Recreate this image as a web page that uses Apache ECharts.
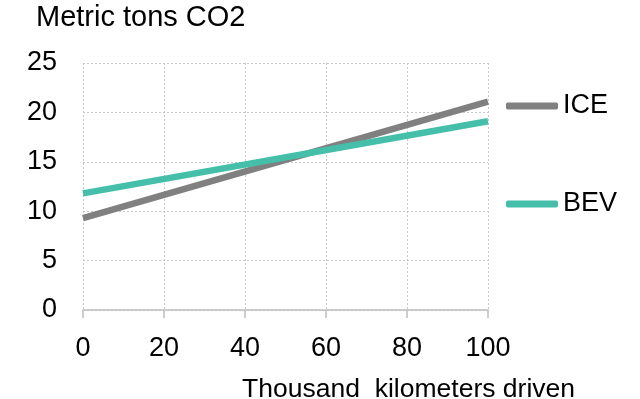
<!DOCTYPE html>
<html>
<head>
<meta charset="utf-8">
<script src="https://cdn.jsdelivr.net/npm/echarts@6/dist/echarts.min.js"></script>
<style>
  html, body { margin: 0; padding: 0; background: #fff; }
  #main { width: 640px; height: 399px; }
</style>
</head>
<body>
<div id="main"></div>
<script>
// thousand km driven
var km = [0, 100]
// metric tons CO2
var ice = [9.3, 21.1]
var bev = [11.8, 19.1]
var xTicks = [0, 20, 40, 60, 80, 100]
var yTicks = [0, 5, 10, 15, 20, 25]

var FONT = '"Liberation Sans", Arial, sans-serif'
var GREY = '#808080'
var TEAL = '#45BFAA'

var chart = echarts.init(document.getElementById('main'), null, { renderer: 'canvas' })

function pairs(xs, ys) {
  return xs.map(function (x, i) { return [x, ys[i]] })
}

chart.setOption({
  animation: false,
  backgroundColor: '#fff',
  textStyle: { fontFamily: FONT },
  grid: { left: 83, right: 152, top: 63, bottom: 89 },
  xAxis: {
    type: 'value',
    min: xTicks[0],
    max: xTicks[xTicks.length - 1],
    interval: xTicks[1] - xTicks[0],
    axisLine: { show: true, lineStyle: { color: '#bfbfbf', width: 1.5 } },
    axisTick: { show: true, length: 8, lineStyle: { color: '#bfbfbf', width: 1.5 } },
    axisLabel: { color: '#000', fontSize: 27, fontFamily: FONT, margin: 25 },
    splitLine: { show: true, lineStyle: { color: '#c8c8c8', type: [2, 2], width: 1 } }
  },
  yAxis: {
    type: 'value',
    min: yTicks[0],
    max: yTicks[yTicks.length - 1],
    interval: yTicks[1] - yTicks[0],
    axisLine: { show: false },
    axisTick: { show: false },
    axisLabel: { color: '#000', fontSize: 27, fontFamily: FONT, margin: 26 },
    splitLine: { show: true, lineStyle: { color: '#c8c8c8', type: [2, 2], width: 1 } }
  },
  legend: {
    orient: 'vertical',
    left: 506,
    top: 91,
    padding: 0,
    itemGap: 68,
    itemWidth: 52,
    itemHeight: 7,
    icon: 'roundRect',
    textStyle: { color: '#000', fontSize: 27, fontFamily: FONT, lineHeight: 30 },
    data: ['ICE', 'BEV']
  },
  graphic: [
    {
      type: 'text', left: 36, top: 3,
      style: { text: 'Metric tons CO2', font: '29px ' + FONT, fill: '#000' }
    },
    {
      type: 'text', right: 65, top: 376,
      style: { text: 'Thousand  kilometers driven', font: '26.5px ' + FONT, fill: '#000' }
    }
  ],
  series: [
    {
      name: 'ICE', type: 'line', data: pairs(km, ice),
      showSymbol: false, symbol: 'none',
      itemStyle: { color: GREY },
      lineStyle: { color: GREY, width: 6.5 }
    },
    {
      name: 'BEV', type: 'line', data: pairs(km, bev),
      showSymbol: false, symbol: 'none',
      itemStyle: { color: TEAL },
      lineStyle: { color: TEAL, width: 6.5 }
    }
  ]
})
</script>
</body>
</html>
